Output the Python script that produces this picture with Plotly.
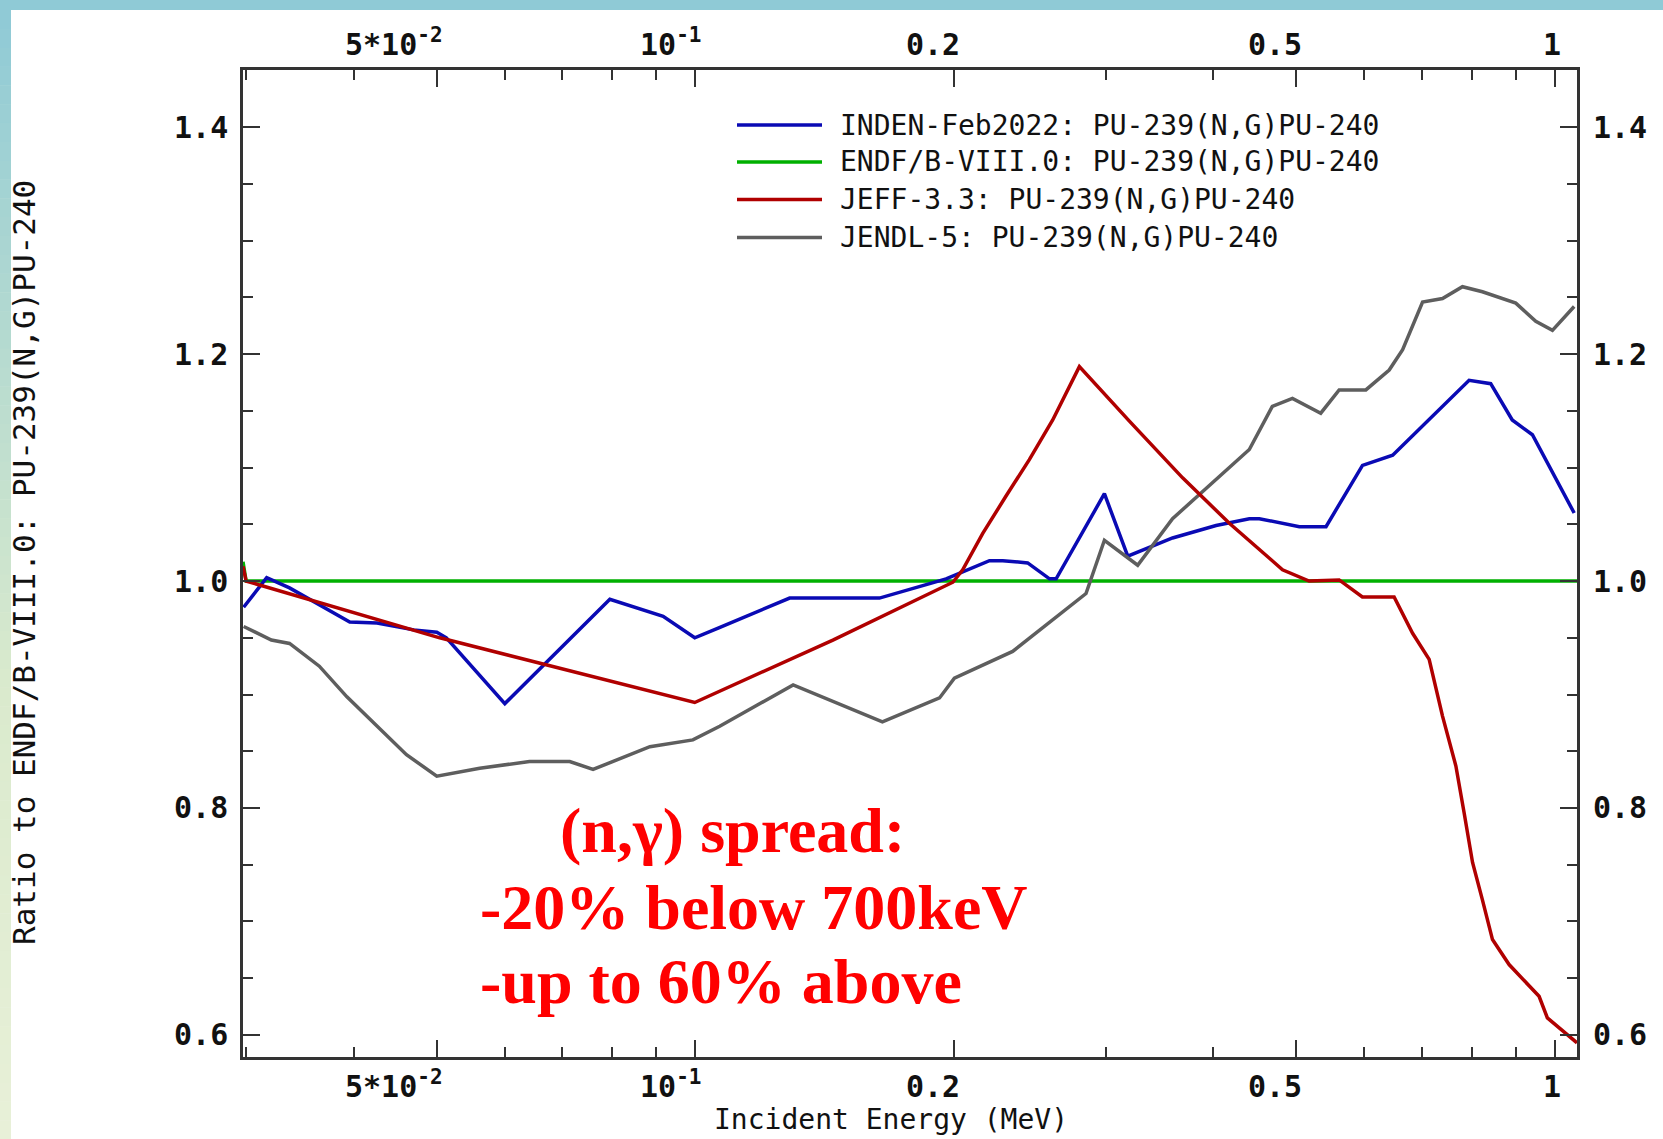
import numpy as np
import plotly.graph_objects as go

# ---------------- data ----------------
inden_e = [0.0298, 0.0317, 0.0337, 0.0396, 0.0426, 0.0470, 0.0500, 0.0513, 0.0600, 0.0795,
           0.0917, 0.0998, 0.1066, 0.1287, 0.1637, 0.1957, 0.2198, 0.2278, 0.2435, 0.2582,
           0.2628, 0.2991, 0.3184, 0.3590, 0.4034, 0.4410, 0.4530, 0.5043, 0.5416, 0.5972,
           0.6475, 0.7269, 0.7946, 0.8420, 0.8920, 0.9415, 1.053]
inden_r = [0.977, 1.003, 0.994, 0.964, 0.963, 0.957, 0.955, 0.950, 0.892, 0.984,
           0.969, 0.950, 0.959, 0.985, 0.985, 1.002, 1.018, 1.018, 1.016, 1.002,
           1.002, 1.077, 1.022, 1.038, 1.049, 1.055, 1.055, 1.048, 1.048, 1.102,
           1.111, 1.148, 1.177, 1.174, 1.142, 1.129, 1.060]

endf_e = [0.02975, 0.0300, 1.061]
endf_r = [1.017, 1.000, 1.000]

jeff_e = [0.02975, 0.0300, 0.0504, 0.0998, 0.1445, 0.1993, 0.2046, 0.2159, 0.2298, 0.2446,
          0.2604, 0.2797, 0.3198, 0.3688, 0.4180, 0.4820, 0.5176, 0.5610, 0.5970, 0.6500,
          0.6830, 0.7140, 0.7400, 0.7670, 0.7840, 0.8020, 0.8235, 0.8460, 0.8845, 0.9585,
          0.9800, 1.061]
jeff_r = [1.013, 1.000, 0.950, 0.893, 0.948, 0.999, 1.010, 1.042, 1.075, 1.107,
          1.142, 1.189, 1.141, 1.091, 1.051, 1.010, 1.000, 1.001, 0.986, 0.986,
          0.954, 0.931, 0.881, 0.837, 0.796, 0.752, 0.719, 0.684, 0.662, 0.634,
          0.615, 0.593]

jendl_e = [0.0298, 0.0321, 0.0337, 0.0365, 0.0393, 0.0430, 0.0461, 0.0500, 0.0561, 0.0641,
           0.0714, 0.0760, 0.0885, 0.0993, 0.1067, 0.1299, 0.1650, 0.1923, 0.2001, 0.2339,
           0.2604, 0.2847, 0.2991, 0.3270, 0.3590, 0.4410, 0.4690, 0.4950, 0.5340, 0.5610,
           0.6026, 0.6415, 0.6650, 0.7015, 0.7400, 0.7806, 0.8235, 0.9005, 0.9500, 0.9934,
           1.053]
jendl_r = [0.960, 0.948, 0.945, 0.925, 0.898, 0.869, 0.847, 0.828, 0.835, 0.841,
           0.841, 0.834, 0.854, 0.860, 0.872, 0.9085, 0.876, 0.897, 0.9145, 0.938,
           0.966, 0.989, 1.036, 1.014, 1.055, 1.116, 1.154, 1.161, 1.148, 1.1685,
           1.1685, 1.186, 1.204, 1.246, 1.249, 1.2595, 1.255, 1.245, 1.229, 1.221,
           1.242]

series_names = ["INDEN-Feb2022: PU-239(N,G)PU-240",
                "ENDF/B-VIII.0: PU-239(N,G)PU-240",
                "JEFF-3.3: PU-239(N,G)PU-240",
                "JENDL-5: PU-239(N,G)PU-240"]
series_colors = ["#0a0ab4", "#00b000", "#b00000", "#5e5e5e"]

x_major = [0.05, 0.1, 0.2, 0.5, 1.0]
x_major_labels = ["5*10<sup>-2</sup>", "10<sup>-1</sup>", "0.2", "0.5", "1"]
x_minor = [0.03, 0.04, 0.06, 0.07, 0.08, 0.09, 0.3, 0.4, 0.6, 0.7, 0.8, 0.9]
y_major = [0.6, 0.8, 1.0, 1.2, 1.4]
y_major_labels = ["0.6", "0.8", "1.0", "1.2", "1.4"]
x_range = [0.02975, 1.061]
y_range = [0.5805, 1.4505]

x_title = "Incident Energy (MeV)"
y_title = "Ratio to ENDF/B-VIII.0: PU-239(N,G)PU-240"
note_lines = ["(n,γ) spread:", "-20% below 700keV", "-up to 60% above"]

# ---------------- layout geometry ----------------
W, H = 1663, 1139
L, R, T, B = 243, 1577, 70, 1057


def px(x):
    return (x - L) / (R - L)


def py(y):
    return (B - y) / (B - T)


AX = "#333333"
MONO = "DejaVu Sans Mono"
TXT = "#111111"

fig = go.Figure()
series = [(endf_e, endf_r, 1), (inden_e, inden_r, 0), (jendl_e, jendl_r, 3), (jeff_e, jeff_r, 2)]
for e, r, i in series:
    fig.add_trace(go.Scatter(x=e, y=r, mode="lines", name=series_names[i],
                             line=dict(color=series_colors[i], width=3.5), showlegend=False))

fig.update_xaxes(type="log", range=[np.log10(x_range[0]), np.log10(x_range[1])],
                 tickvals=x_major, ticks="inside", ticklen=17, tickwidth=2, tickcolor=AX,
                 showticklabels=False, showline=True, linewidth=2.5, linecolor=AX,
                 mirror="allticks", showgrid=False, zeroline=False,
                 minor=dict(tickvals=x_minor, ticks="inside", ticklen=10, tickwidth=2,
                            tickcolor=AX, showgrid=False))
fig.update_yaxes(range=y_range, tickvals=y_major, ticktext=y_major_labels,
                 ticks="inside", ticklen=17, tickwidth=2, tickcolor=AX,
                 showline=True, linewidth=2.5, linecolor=AX, mirror="allticks",
                 showgrid=False, zeroline=False, ticklabelstandoff=6,
                 tickfont=dict(family=MONO, size=30, color=TXT, weight="bold"),
                 minor=dict(dtick=0.05, tick0=0.0, ticks="inside", ticklen=10, tickwidth=2,
                            tickcolor=AX, showgrid=False))

annotations = []
tick_font = dict(family=MONO, size=30, color=TXT, weight="bold")
for v, t in zip(x_major, x_major_labels):
    for yb in (64, 1106):
        annotations.append(dict(x=np.log10(v), xref="x", y=py(yb), yref="paper",
                                text=t, showarrow=False, xanchor="right", yanchor="bottom",
                                xshift=8, font=tick_font))
for v, t in zip(y_major, y_major_labels):
    annotations.append(dict(x=px(1591), xref="paper", y=v, yref="y", text=t,
                            showarrow=False, xanchor="left", yanchor="middle", font=tick_font))

annotations.append(dict(x=px(891), xref="paper", y=py(1138), yref="paper", text=x_title,
                        showarrow=False, xanchor="center", yanchor="bottom",
                        font=dict(family=MONO, size=28, color=TXT)))
annotations.append(dict(x=px(24), xref="paper", y=py(563), yref="paper", text=y_title,
                        textangle=-90, showarrow=False, xanchor="center", yanchor="middle",
                        font=dict(family=MONO, size=31, color=TXT)))

# custom legend (long line samples like the reference)
shapes = []
legend_rows = [125, 162, 199.5, 237.5]
for i, yrow in enumerate(legend_rows):
    shapes.append(dict(type="line", xref="paper", yref="paper", x0=px(737), x1=px(822),
                       y0=py(yrow), y1=py(yrow), line=dict(color=series_colors[i], width=3.5)))
    annotations.append(dict(x=px(838), xref="paper", y=py(yrow), yref="paper",
                            text=series_names[i], showarrow=False, xanchor="left",
                            yanchor="middle",
                            font=dict(family=MONO, size=28, color=TXT)))

# red note
note_pos = [(558, 830), (478, 907), (478, 981)]
for line, (xx, yy) in zip(note_lines, note_pos):
    annotations.append(dict(x=px(xx), xref="paper", y=py(yy), yref="paper", text=line,
                            showarrow=False, xanchor="left", yanchor="middle",
                            font=dict(family="Liberation Serif", size=64, color="#ff0000",
                                      weight="bold")))

# page decoration: teal top band, gradient left band
shapes.append(dict(type="rect", xref="paper", yref="paper", x0=px(0), x1=px(W),
                   y0=py(10), y1=py(0), fillcolor="rgb(143,202,214)", line=dict(width=0),
                   layer="below"))
stops = [(0.0, (143, 202, 214)), (0.35, (188, 221, 207)), (0.6, (218, 234, 205)),
         (1.0, (232, 240, 216))]
nsl = 60
for k in range(nsl):
    f = (k + 0.5) / nsl
    for (a, ca), (b, cb) in zip(stops[:-1], stops[1:]):
        if a <= f <= b:
            t = (f - a) / (b - a)
            c = tuple(int(round(ca[j] + (cb[j] - ca[j]) * t)) for j in range(3))
            break
    y0 = 10 + (H - 10) * k / nsl
    y1 = 10 + (H - 10) * (k + 1) / nsl + 0.5
    shapes.append(dict(type="rect", xref="paper", yref="paper", x0=px(0), x1=px(11),
                       y0=py(y1), y1=py(y0), fillcolor="rgb(%d,%d,%d)" % c,
                       line=dict(width=0), layer="below"))

fig.update_layout(width=W, height=H, margin=dict(l=L, r=W - R, t=T, b=H - B),
                  paper_bgcolor="white", plot_bgcolor="white", showlegend=False,
                  annotations=annotations, shapes=shapes)

fig.write_html("out.html", config={"displayModeBar": False},
               post_script="document.body.style.margin='0';document.body.style.overflow='hidden';")
